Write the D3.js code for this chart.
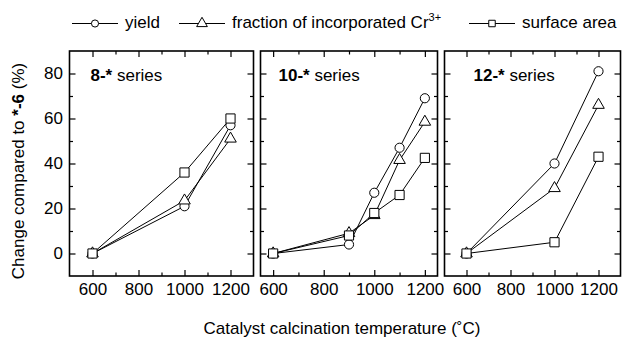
<!DOCTYPE html>
<html>
<head>
<meta charset="utf-8">
<script src="https://cdn.jsdelivr.net/npm/d3@7"></script>
<style>
  body { margin: 0; background: #fff; }
  svg { display: block; font-family: 'Liberation Sans', Arial, Helvetica, sans-serif; }
  .axis path { display: none; }
  .axis line { stroke: #000; stroke-width: 1.2; }
  .axis text { font-size: 17px; fill: #000; font-family: 'Liberation Sans', Arial, sans-serif; }
  .frame { fill: none; stroke: #000; stroke-width: 1.6; }
  .series-line { fill: none; stroke: #000; stroke-width: 1; }
  .marker { fill: #fff; stroke: #000; stroke-width: 1; }
</style>
</head>
<body>
<svg id="chart"></svg>
<script>
// ---- values ----
const seriesKeys = ['yield', 'cr', 'area'];
const panelLabels = ['8-*', '10-*', '12-*'];
const xMajorTicks = [600, 800, 1000, 1200];
const xMinorTicks = [700, 900, 1100];
const yMajorTicks = [0, 20, 40, 60, 80];
const yMinorTicks = [10, 30, 50, 70];

// 8-* series
const temps8 = [600, 1000, 1200];
const yield8 = [0, 21, 57];
const cr8 = [0, 23.5, 51];
const area8 = [0, 36, 60];

// 10-* series
const temps10 = [600, 900, 1000, 1100, 1200];
const yield10 = [0, 4, 27, 47, 69];
const cr10 = [0, 9, 17, 41.5, 58.5];
const area10 = [0, 8, 18, 26, 42.5];

// 12-* series
const temps12 = [600, 1000, 1200];
const yield12 = [0, 40, 81];
const cr12 = [0, 29, 66];
const area12 = [0, 5, 43];

const containerWidth = 627;
const containerHeight = 338;

class SeriesPanel {

  /**
   * One framed panel with three marker series
   */
  constructor(_config, _data) {
    this.config = {
      parent: _config.parent,
      left: _config.left,
      right: _config.right,
      top: _config.top || 51,
      bottom: _config.bottom || 276,
      xDomain: _config.xDomain,
      yDomain: _config.yDomain || [-10, 90],
      showYLabels: _config.showYLabels || false,
      label: _config.label,
      labelX: _config.labelX || 20,
      labelY: _config.labelY || 81
    }
    this.data = _data;
    this.initVis();
  }

  initVis() {
    let vis = this;
    const c = vis.config;

    vis.width = c.right - c.left;
    vis.height = c.bottom - c.top;

    vis.xScale = d3.scaleLinear().domain(c.xDomain).range([0, vis.width]);
    vis.yScale = d3.scaleLinear().domain(c.yDomain).range([vis.height, 0]);

    vis.chart = c.parent.append('g')
        .attr('transform', `translate(${c.left},${c.top})`);

    // ticks point inwards on all four sides
    const major = 6, minor = 3.5;
    vis.chart.append('g').attr('class', 'axis')
        .attr('transform', `translate(0,${vis.height})`)
        .call(d3.axisBottom(vis.xScale).tickValues(xMajorTicks).tickSize(-major).tickPadding(7).tickFormat(d3.format('d')));
    vis.chart.append('g').attr('class', 'axis')
        .attr('transform', `translate(0,${vis.height})`)
        .call(d3.axisBottom(vis.xScale).tickValues(xMinorTicks).tickSize(-minor).tickFormat(''));
    vis.chart.append('g').attr('class', 'axis')
        .call(d3.axisTop(vis.xScale).tickValues(xMajorTicks).tickSize(-major).tickFormat(''));
    vis.chart.append('g').attr('class', 'axis')
        .call(d3.axisTop(vis.xScale).tickValues(xMinorTicks).tickSize(-minor).tickFormat(''));

    vis.chart.append('g').attr('class', 'axis')
        .call(d3.axisLeft(vis.yScale).tickValues(yMajorTicks).tickSize(-major).tickPadding(6.5)
          .tickFormat(c.showYLabels ? d3.format('d') : ''));
    vis.chart.append('g').attr('class', 'axis')
        .call(d3.axisLeft(vis.yScale).tickValues(yMinorTicks).tickSize(-minor).tickFormat(''));
    vis.chart.append('g').attr('class', 'axis')
        .attr('transform', `translate(${vis.width},0)`)
        .call(d3.axisRight(vis.yScale).tickValues(yMajorTicks).tickSize(-major).tickFormat(''));
    vis.chart.append('g').attr('class', 'axis')
        .attr('transform', `translate(${vis.width},0)`)
        .call(d3.axisRight(vis.yScale).tickValues(yMinorTicks).tickSize(-minor).tickFormat(''));

    vis.chart.append('rect')
        .attr('class', 'frame')
        .attr('width', vis.width)
        .attr('height', vis.height);

    const lbl = vis.chart.append('text')
        .attr('x', c.labelX)
        .attr('y', c.labelY - c.top)
        .style('font-size', '17px');
    lbl.append('tspan').style('font-weight', 'bold').text(c.label);
    lbl.append('tspan').text(' series');

    vis.renderVis();
  }

  renderVis() {
    let vis = this;

    vis.line = d3.line()
        .x(d => vis.xScale(d.t))
        .y(d => vis.yScale(d.v));

    vis.chart.selectAll('.series-line')
      .data(vis.data)
      .join('path')
        .attr('class', 'series-line')
        .attr('d', d => vis.line(d.values));

    vis.data.forEach(s => {
      vis.chart.selectAll(`.marker-${s.key}`)
        .data(s.values)
        .join('path')
          .attr('class', `marker marker-${s.key}`)
          .attr('transform', d => `translate(${vis.xScale(d.t)},${vis.yScale(d.v)})`)
          .attr('d', d3.symbol().type(symbolType[s.key]).size(symbolSize[s.key]));
    });
  }
}

const symbolType = { yield: d3.symbolCircle, cr: d3.symbolTriangle, area: d3.symbolSquare };
const symbolSize = { yield: 66, cr: 58, area: 84 };

function pack(temps, ...cols) {
  return seriesKeys.map((key, i) => ({
    key,
    values: temps.map((t, j) => ({ t, v: cols[i][j] }))
  }));
}

const svg = d3.select('#chart')
    .attr('width', containerWidth)
    .attr('height', containerHeight);

new SeriesPanel({ parent: svg, left: 69.5, right: 253.5, xDomain: [500, 1300], showYLabels: true,
  label: panelLabels[0], labelX: 21 }, pack(temps8, yield8, cr8, area8));
new SeriesPanel({ parent: svg, left: 260.5, right: 437.5, xDomain: [550, 1250],
  label: panelLabels[1], labelX: 18 }, pack(temps10, yield10, cr10, area10));
new SeriesPanel({ parent: svg, left: 444.5, right: 620.5, xDomain: [500, 1300],
  label: panelLabels[2], labelX: 29 }, pack(temps12, yield12, cr12, area12));

// legend
const legendItems = [
  { key: 'yield', x: 72, text: 'yield' },
  { key: 'cr', x: 179, text: 'fraction of incorporated Cr', sup: '3+' },
  { key: 'area', x: 469, text: 'surface area' }
];
const legendSize = { yield: 40, cr: 50, area: 42 };
const legendY = 23.5;

const legend = svg.append('g').attr('class', 'legend');
legendItems.forEach(item => {
  const g = legend.append('g').attr('transform', `translate(${item.x},${legendY})`);
  g.append('line').attr('x1', 0).attr('x2', 46).attr('stroke', '#000').attr('stroke-width', 1);
  g.append('path')
      .attr('class', 'marker')
      .attr('transform', 'translate(23,0)')
      .attr('d', d3.symbol().type(symbolType[item.key]).size(legendSize[item.key]));
  const t = g.append('text').attr('x', 53).attr('y', 4.5).style('font-size', '17px');
  t.append('tspan').text(item.text);
  if (item.sup) {
    t.append('tspan').attr('dy', -7).style('font-size', '11px').text(item.sup);
  }
});

// axis titles
svg.append('text')
    .attr('x', 342)
    .attr('y', 334)
    .attr('text-anchor', 'middle')
    .style('font-size', '17px')
    .text('Catalyst calcination temperature (\u02DAC)');

const yTitle = svg.append('text')
    .attr('transform', 'translate(24,171) rotate(-90)')
    .attr('text-anchor', 'middle')
    .style('font-size', '17px');
yTitle.append('tspan').text('Change compared to ');
yTitle.append('tspan').style('font-weight', 'bold').text('*-6');
yTitle.append('tspan').text(' (%)');
</script>
</body>
</html>
